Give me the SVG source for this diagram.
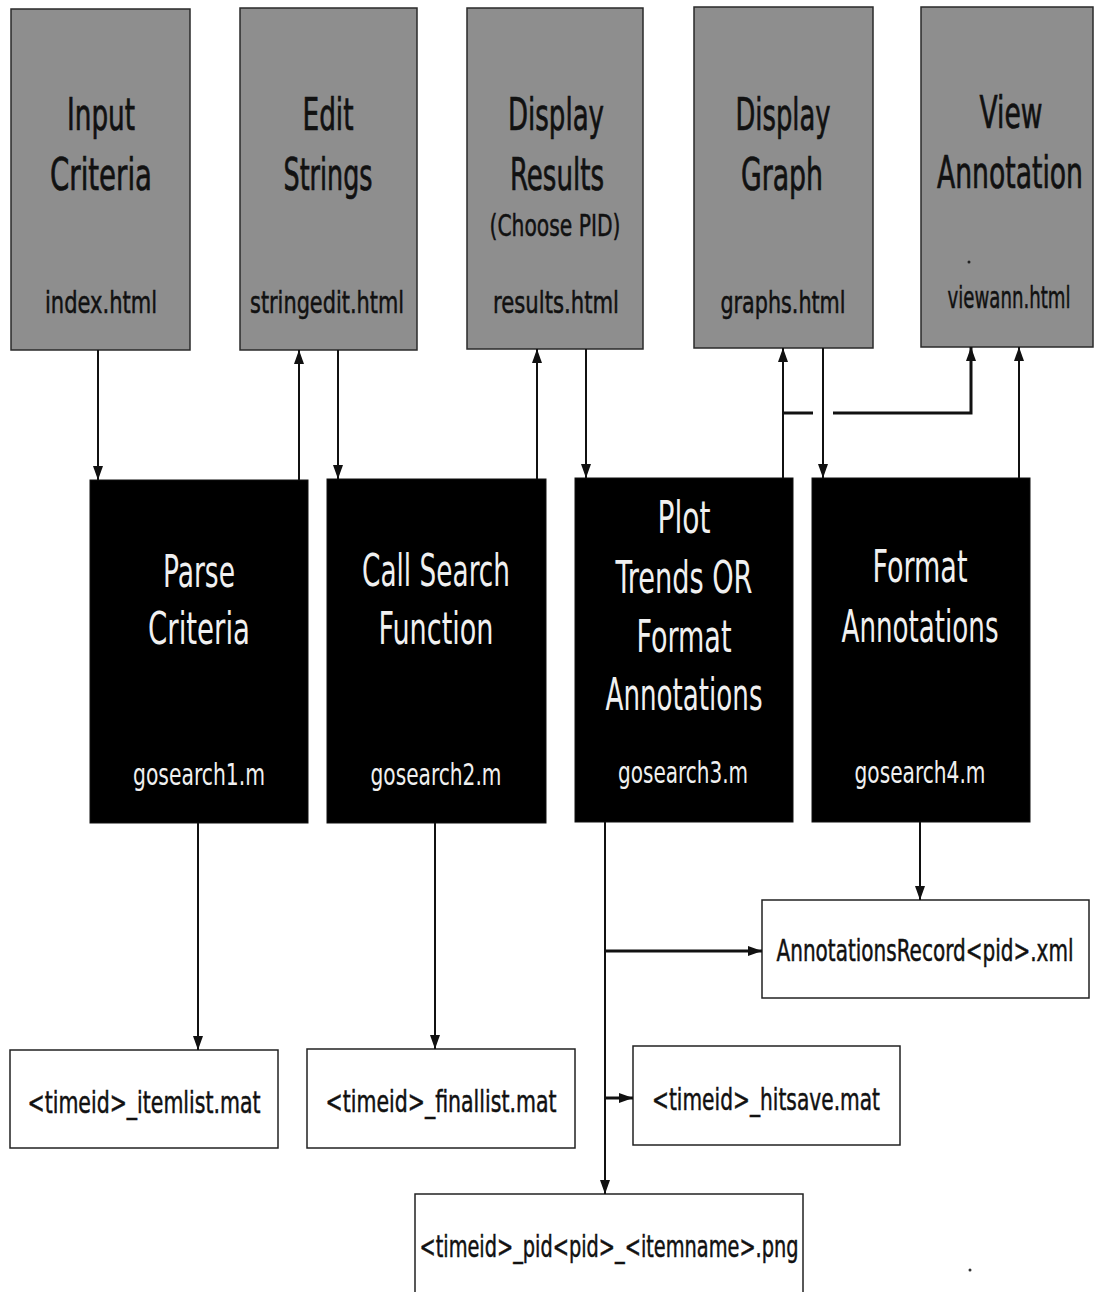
<svg xmlns="http://www.w3.org/2000/svg" width="1094" height="1292" viewBox="0 0 1094 1292">
  <style>
    .page { fill: #8e8e8e; stroke: #2a2a2a; stroke-width: 1.5; }
    .func { fill: #000; stroke: #111; stroke-width: 1; }
    .file { fill: #fff; stroke: #222; stroke-width: 1.5; }
    text { font-family: "DejaVu Sans Condensed", "DejaVu Sans", sans-serif; text-anchor: middle; }
    .pt { fill: #111; stroke: #111; stroke-width: 0.7; font-size: 44px; }
    .pn { fill: #111; stroke: #111; stroke-width: 0.5; font-size: 31px; }
    .ft { fill: #f0f0f0; font-size: 44px; }
    .fn { fill: #f0f0f0; font-size: 31px; }
    .fl { fill: #111; stroke: #111; stroke-width: 0.5; font-size: 31px; }
    .edge { fill: none; stroke: #111; stroke-width: 2; }
    .edge.thick { stroke-width: 3; }
  </style>
  <defs>
    <marker id="arrow" viewBox="0 0 14 10" markerWidth="14" markerHeight="10" refX="14" refY="5" orient="auto" markerUnits="userSpaceOnUse">
      <path d="M0,0 L14,5 L0,10 z" fill="#111"/>
    </marker>
  </defs>

  <rect width="1094" height="1292" fill="#fff"/>

  <!-- web pages (narrow lettering: glyphs squeezed horizontally) -->
  <g id="input-criteria">
    <rect class="page" x="11" y="9" width="179" height="341"/>
    <text class="pt" transform="translate(101 130) scale(0.66 1)" textLength="103" lengthAdjust="spacingAndGlyphs">Input</text>
    <text class="pt" transform="translate(101 190) scale(0.66 1)" textLength="154.5" lengthAdjust="spacingAndGlyphs">Criteria</text>
    <text class="pn" transform="translate(101 313) scale(0.78 1)" textLength="143.6" lengthAdjust="spacingAndGlyphs">index.html</text>
  </g>
  <g id="edit-strings">
    <rect class="page" x="240" y="8" width="177" height="342"/>
    <text class="pt" transform="translate(328 130) scale(0.66 1)" textLength="77.3" lengthAdjust="spacingAndGlyphs">Edit</text>
    <text class="pt" transform="translate(328 190) scale(0.66 1)" textLength="134.8" lengthAdjust="spacingAndGlyphs">Strings</text>
    <text class="pn" transform="translate(327 313) scale(0.78 1)" textLength="197.4" lengthAdjust="spacingAndGlyphs">stringedit.html</text>
  </g>
  <g id="display-results">
    <rect class="page" x="467" y="8" width="176" height="341"/>
    <text class="pt" transform="translate(556 130) scale(0.66 1)" textLength="145.5" lengthAdjust="spacingAndGlyphs">Display</text>
    <text class="pt" transform="translate(557 190) scale(0.66 1)" textLength="142.4" lengthAdjust="spacingAndGlyphs">Results</text>
    <text class="pn" transform="translate(555 236) scale(0.78 1)" textLength="167.9" lengthAdjust="spacingAndGlyphs">(Choose PID)</text>
    <text class="pn" transform="translate(556 313) scale(0.78 1)" textLength="161.5" lengthAdjust="spacingAndGlyphs">results.html</text>
  </g>
  <g id="display-graph">
    <rect class="page" x="694" y="7" width="179" height="341"/>
    <text class="pt" transform="translate(783 130) scale(0.66 1)" textLength="143.9" lengthAdjust="spacingAndGlyphs">Display</text>
    <text class="pt" transform="translate(782 190) scale(0.66 1)" textLength="124.2" lengthAdjust="spacingAndGlyphs">Graph</text>
    <text class="pn" transform="translate(783 313) scale(0.78 1)" textLength="160.3" lengthAdjust="spacingAndGlyphs">graphs.html</text>
  </g>
  <g id="view-annotation">
    <rect class="page" x="921" y="7" width="172" height="340"/>
    <text class="pt" transform="translate(1011 128) scale(0.66 1)" textLength="95.5" lengthAdjust="spacingAndGlyphs">View</text>
    <text class="pt" transform="translate(1010 188) scale(0.66 1)" textLength="221.2" lengthAdjust="spacingAndGlyphs">Annotation</text>
    <circle cx="969" cy="262" r="1.5" fill="#222"/>
    <text class="pn" transform="translate(1009 308) scale(0.78 1)" textLength="157.7" lengthAdjust="spacingAndGlyphs">viewann.html</text>
  </g>

  <!-- matlab functions -->
  <g id="gosearch1">
    <rect class="func" x="90" y="480" width="218" height="343"/>
    <text class="ft" transform="translate(199 587) scale(0.66 1)" textLength="109.1" lengthAdjust="spacingAndGlyphs">Parse</text>
    <text class="ft" transform="translate(199 644) scale(0.66 1)" textLength="154.5" lengthAdjust="spacingAndGlyphs">Criteria</text>
    <text class="fn" transform="translate(199 785) scale(0.78 1)" textLength="169.2" lengthAdjust="spacingAndGlyphs">gosearch1.m</text>
  </g>
  <g id="gosearch2">
    <rect class="func" x="327" y="479" width="219" height="344"/>
    <text class="ft" transform="translate(436 586) scale(0.66 1)" textLength="224.2" lengthAdjust="spacingAndGlyphs">Call Search</text>
    <text class="ft" transform="translate(436 644) scale(0.66 1)" textLength="174.2" lengthAdjust="spacingAndGlyphs">Function</text>
    <text class="fn" transform="translate(436 785) scale(0.78 1)" textLength="167.9" lengthAdjust="spacingAndGlyphs">gosearch2.m</text>
  </g>
  <g id="gosearch3">
    <rect class="func" x="575" y="478" width="218" height="344"/>
    <text class="ft" transform="translate(684 533) scale(0.66 1)" textLength="80.3" lengthAdjust="spacingAndGlyphs">Plot</text>
    <text class="ft" transform="translate(684 593) scale(0.66 1)" textLength="207.6" lengthAdjust="spacingAndGlyphs">Trends OR</text>
    <text class="ft" transform="translate(684 652) scale(0.66 1)" textLength="143.9" lengthAdjust="spacingAndGlyphs">Format</text>
    <text class="ft" transform="translate(684 710) scale(0.66 1)" textLength="237.9" lengthAdjust="spacingAndGlyphs">Annotations</text>
    <text class="fn" transform="translate(683 783) scale(0.78 1)" textLength="166.7" lengthAdjust="spacingAndGlyphs">gosearch3.m</text>
  </g>
  <g id="gosearch4">
    <rect class="func" x="812" y="478" width="218" height="344"/>
    <text class="ft" transform="translate(920 582) scale(0.66 1)" textLength="143.9" lengthAdjust="spacingAndGlyphs">Format</text>
    <text class="ft" transform="translate(920 642) scale(0.66 1)" textLength="237.9" lengthAdjust="spacingAndGlyphs">Annotations</text>
    <text class="fn" transform="translate(920 783) scale(0.78 1)" textLength="167.9" lengthAdjust="spacingAndGlyphs">gosearch4.m</text>
  </g>

  <!-- output files -->
  <g id="annotations-record">
    <rect class="file" x="762" y="900" width="327" height="98"/>
    <text class="fl" transform="translate(925 961) scale(0.72 1)" textLength="412.5" lengthAdjust="spacingAndGlyphs">AnnotationsRecord&lt;pid&gt;.xml</text>
  </g>
  <g id="itemlist">
    <rect class="file" x="10" y="1050" width="268" height="98"/>
    <text class="fl" transform="translate(144 1113) scale(0.72 1)" textLength="323.6" lengthAdjust="spacingAndGlyphs">&lt;timeid&gt;_itemlist.mat</text>
  </g>
  <g id="finallist">
    <rect class="file" x="307" y="1049" width="268" height="99"/>
    <text class="fl" transform="translate(441 1112) scale(0.72 1)" textLength="320.8" lengthAdjust="spacingAndGlyphs">&lt;timeid&gt;_finallist.mat</text>
  </g>
  <g id="hitsave">
    <rect class="file" x="633" y="1046" width="267" height="99"/>
    <text class="fl" transform="translate(766 1110) scale(0.72 1)" textLength="316.7" lengthAdjust="spacingAndGlyphs">&lt;timeid&gt;_hitsave.mat</text>
  </g>
  <g id="plot-image">
    <rect class="file" x="415" y="1194" width="388" height="104"/>
    <text class="fl" transform="translate(609 1257) scale(0.72 1)" textLength="526.4" lengthAdjust="spacingAndGlyphs">&lt;timeid&gt;_pid&lt;pid&gt;_&lt;itemname&gt;.png</text>
  </g>
  <circle cx="970" cy="1270" r="1.5" fill="#333"/>

  <!-- connectors -->
  <g id="connectors">
    <line class="edge" x1="98" y1="350" x2="98" y2="480" marker-end="url(#arrow)"/>
    <line class="edge" x1="299" y1="480" x2="299" y2="350" marker-end="url(#arrow)"/>
    <line class="edge" x1="338" y1="350" x2="338" y2="479" marker-end="url(#arrow)"/>
    <line class="edge" x1="537" y1="479" x2="537" y2="349" marker-end="url(#arrow)"/>
    <line class="edge" x1="586" y1="349" x2="586" y2="478" marker-end="url(#arrow)"/>
    <line class="edge" x1="783" y1="478" x2="783" y2="348" marker-end="url(#arrow)"/>
    <line class="edge" x1="823" y1="348" x2="823" y2="478" marker-end="url(#arrow)"/>
    <line class="edge" x1="1019" y1="478" x2="1019" y2="347" marker-end="url(#arrow)"/>
    <!-- branch to viewann.html, hopping over the graphs.html line -->
    <line class="edge thick" x1="783" y1="413" x2="813" y2="413"/>
    <path class="edge thick" d="M833,413 H971 V347" marker-end="url(#arrow)"/>

    <line class="edge" x1="198" y1="823" x2="198" y2="1050" marker-end="url(#arrow)"/>
    <line class="edge" x1="435" y1="823" x2="435" y2="1049" marker-end="url(#arrow)"/>
    <line class="edge" x1="920" y1="822" x2="920" y2="900" marker-end="url(#arrow)"/>
    <line class="edge" x1="605" y1="822" x2="605" y2="1194" marker-end="url(#arrow)"/>
    <line class="edge thick" x1="605" y1="951" x2="762" y2="951" marker-end="url(#arrow)"/>
    <line class="edge thick" x1="605" y1="1098" x2="633" y2="1098" marker-end="url(#arrow)"/>
  </g>
</svg>
